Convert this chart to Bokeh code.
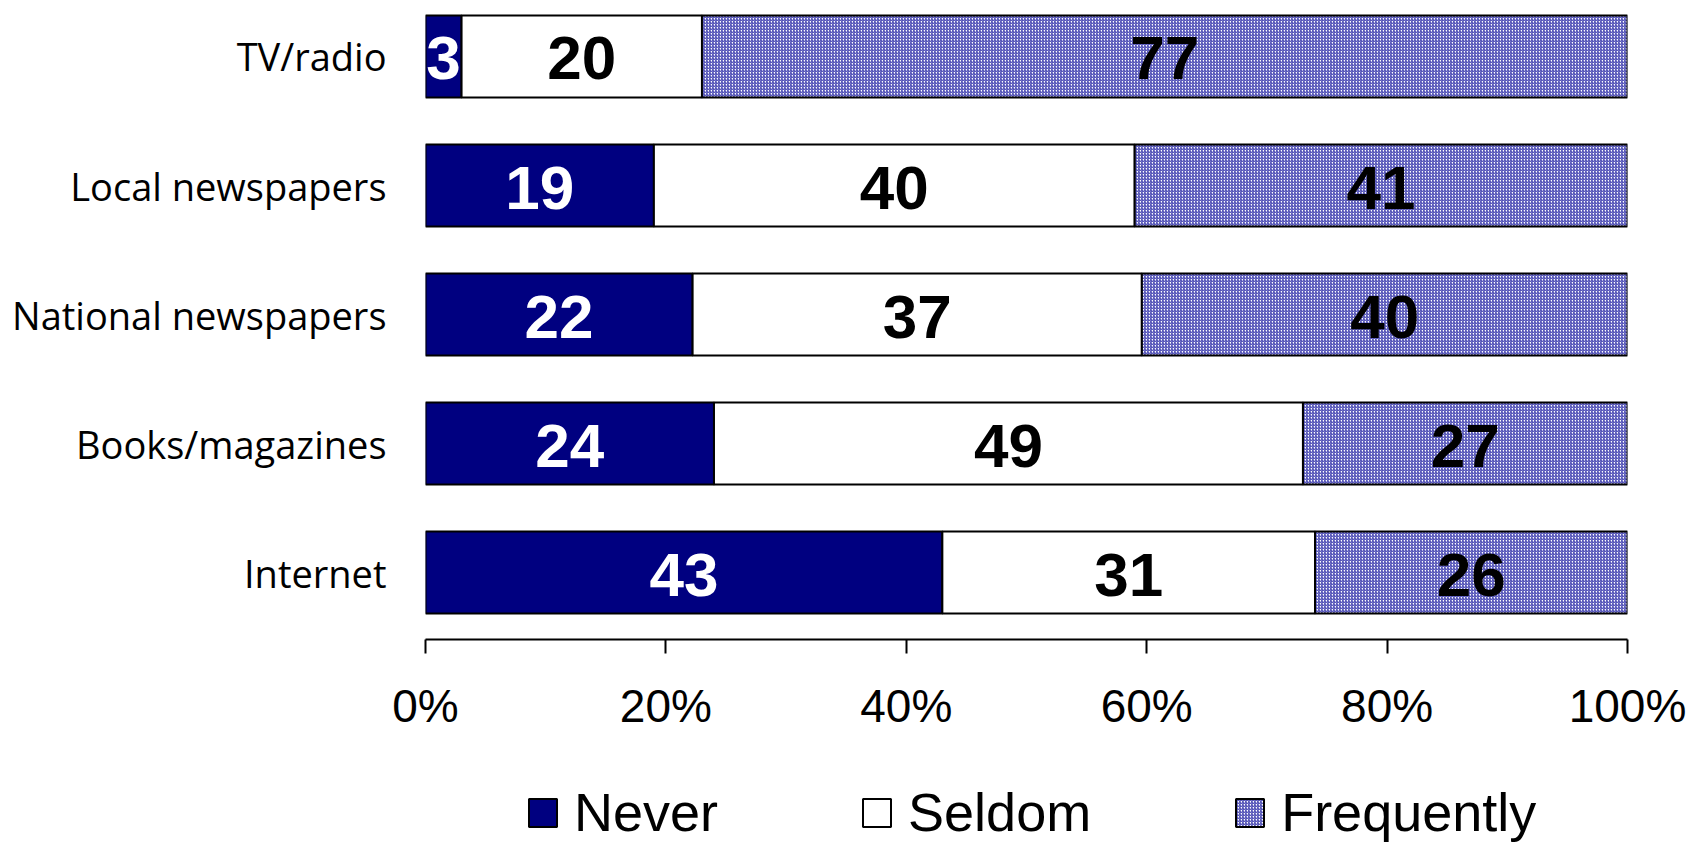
from bokeh.plotting import figure
from bokeh.layouts import column
from bokeh.models import (ColumnDataSource, Range1d, FixedTicker, PrintfTickFormatter,
                          Legend, LegendItem)
from bokeh.core.properties import value
from bokeh.embed import file_html
from bokeh.resources import INLINE

categories = ["TV/radio", "Local newspapers", "National newspapers", "Books/magazines", "Internet"]
never = [3, 19, 22, 24, 43]
seldom = [20, 40, 37, 49, 31]
frequently = [77, 41, 40, 27, 26]
series_names = ["Never", "Seldom", "Frequently"]
x_ticks = [0, 20, 40, 60, 80, 100]

n = len(categories)
ypos = [n - 1 - i for i in range(n)]  # TV/radio on top
totals = [a + b + c for a, b, c in zip(never, seldom, frequently)]

segs = [never, seldom, frequently]
lefts, rights = [], []
cum = [0.0] * n
for vals in segs:
    l = list(cum)
    r = [cum[i] + vals[i] * 100.0 / totals[i] for i in range(n)]
    lefts.append(l)
    rights.append(r)
    cum = r

W = 1692
H_TOP = 760
H_LEG = 83

p = figure(width=W, height=H_TOP, output_backend="svg", toolbar_location=None,
           x_range=Range1d(0, 100), y_range=Range1d(-0.519, 4.434),
           min_border_left=425, min_border_right=65, min_border_top=0,
           min_border_bottom=H_TOP - 639)
p.outline_line_color = None
p.xgrid.visible = False
p.ygrid.visible = False

styles = [
    dict(fill_color="#000080"),
    dict(fill_color="white"),
    dict(fill_color="white", hatch_pattern="right_diagonal_line", hatch_color="#4040b0",
         hatch_scale=3, hatch_weight=1.1),
]
label_colors = ["white", "black", "black"]

sources = []
for k in range(3):
    src = ColumnDataSource(dict(
        y=ypos, left=lefts[k], right=rights[k],
        xc=[(a + b) / 2 for a, b in zip(lefts[k], rights[k])],
        lab=[str(v) for v in segs[k]],
    ))
    sources.append(src)
    p.hbar(y="y", left="left", right="right", height=0.636, source=src,
           line_color="black", line_width=2, **styles[k])
    p.text(x="xc", y="y", text="lab", source=src, text_align="center",
           text_baseline="middle", text_font=value("Liberation Sans"),
           text_font_style="bold", text_font_size="62px", text_color=label_colors[k],
           y_offset=2)

# x axis
xa = p.xaxis[0]
xa.ticker = FixedTicker(ticks=x_ticks)
xa.formatter = PrintfTickFormatter(format="%d%%")
xa.axis_line_color = "black"
xa.axis_line_width = 2
xa.major_tick_line_color = "black"
xa.major_tick_line_width = 2
xa.major_tick_out = 14
xa.major_tick_in = 0
xa.minor_tick_line_color = None
xa.major_label_text_font = "Liberation Sans"
xa.major_label_text_font_size = "46px"
xa.major_label_text_color = "black"
xa.major_label_standoff = 26

# y axis
ya = p.yaxis[0]
ya.ticker = FixedTicker(ticks=ypos)
ya.major_label_overrides = {ypos[i]: categories[i] for i in range(n)}
ya.axis_line_color = None
ya.major_tick_line_color = None
ya.minor_tick_line_color = None
ya.major_label_text_font = "Open Sans"
ya.major_label_text_font_size = "38px"
ya.major_label_text_color = "black"
ya.major_label_standoff = 33

# legend strip (renderers hidden; they only supply the legend swatches)
p2 = figure(width=W, height=H_LEG, output_backend="svg", toolbar_location=None,
            x_range=Range1d(0, 100), y_range=Range1d(100, 101),
            min_border_left=0, min_border_right=0, min_border_top=0, min_border_bottom=0)
p2.axis.visible = False
p2.xgrid.visible = False
p2.ygrid.visible = False
p2.outline_line_color = None
leg_renderers = []
for k in range(3):
    r = p2.hbar(y="y", left="left", right="right", height=0.636, source=sources[k],
                line_color="black", line_width=2, **styles[k])
    r.visible = False
    leg_renderers.append(r)

legend = Legend(items=[LegendItem(label=series_names[k], renderers=[leg_renderers[k]]) for k in range(3)],
                orientation="horizontal", location=(100, 0),
                glyph_width=35, glyph_height=35, label_standoff=14, spacing=141,
                padding=0, margin=0, border_line_color=None, background_fill_alpha=0,
                label_text_font="Liberation Sans", label_text_font_size="54px",
                label_text_color="black")
p2.add_layout(legend, "center")

layout = column(p, p2, spacing=0)
open("out.html", "w").write(file_html(layout, INLINE))
